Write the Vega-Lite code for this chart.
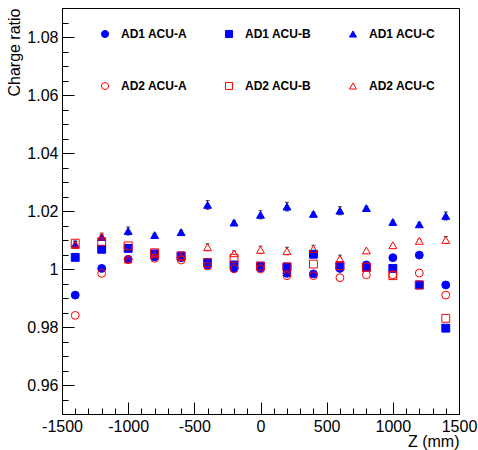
{
  "$schema": "https://vega.github.io/schema/vega-lite/v6.json",
  "width": 397,
  "height": 406,
  "autosize": {"type": "none"},
  "padding": {"left": 62, "top": 8, "right": 19, "bottom": 36},
  "background": "white",
  "config": {
    "font": "Liberation Sans",
    "view": {"stroke": "black", "strokeWidth": 1},
    "axis": {
      "grid": false,
      "domainColor": "black",
      "tickColor": "black",
      "labelColor": "black",
      "titleColor": "black",
      "labelFont": "Liberation Sans",
      "titleFont": "Liberation Sans",
      "labelFontSize": 16,
      "titleFontSize": 16,
      "titleFontWeight": "normal",
      "labelOverlap": false,
      "labelFlush": false
    }
  },
  "data": {
    "values": [
      {"z": -1400, "v": 0.991, "s": "AD1 ACU-A", "err": 0},
      {"z": -1200, "v": 1.0002, "s": "AD1 ACU-A", "err": 0},
      {"z": -1000, "v": 1.0033, "s": "AD1 ACU-A", "err": 0},
      {"z": -800, "v": 1.0042, "s": "AD1 ACU-A", "err": 0},
      {"z": -600, "v": 1.0039, "s": "AD1 ACU-A", "err": 0},
      {"z": -400, "v": 1.0014, "s": "AD1 ACU-A", "err": 0},
      {"z": -200, "v": 1.0002, "s": "AD1 ACU-A", "err": 0},
      {"z": 0, "v": 1.0004, "s": "AD1 ACU-A", "err": 0},
      {"z": 200, "v": 0.9985, "s": "AD1 ACU-A", "err": 0},
      {"z": 400, "v": 0.9983, "s": "AD1 ACU-A", "err": 0},
      {"z": 600, "v": 1.0002, "s": "AD1 ACU-A", "err": 0},
      {"z": 800, "v": 1.0014, "s": "AD1 ACU-A", "err": 0},
      {"z": 1000, "v": 1.0039, "s": "AD1 ACU-A", "err": 0},
      {"z": 1200, "v": 1.0048, "s": "AD1 ACU-A", "err": 0},
      {"z": 1400, "v": 0.9945, "s": "AD1 ACU-A", "err": 0},

      {"z": -1400, "v": 1.004, "s": "AD1 ACU-B", "err": 0},
      {"z": -1200, "v": 1.0068, "s": "AD1 ACU-B", "err": 0},
      {"z": -1000, "v": 1.0071, "s": "AD1 ACU-B", "err": 0},
      {"z": -800, "v": 1.0052, "s": "AD1 ACU-B", "err": 0},
      {"z": -600, "v": 1.0045, "s": "AD1 ACU-B", "err": 0},
      {"z": -400, "v": 1.0022, "s": "AD1 ACU-B", "err": 0},
      {"z": -200, "v": 1.0014, "s": "AD1 ACU-B", "err": 0},
      {"z": 0, "v": 1.001, "s": "AD1 ACU-B", "err": 0},
      {"z": 200, "v": 1.0007, "s": "AD1 ACU-B", "err": 0},
      {"z": 400, "v": 1.0051, "s": "AD1 ACU-B", "err": 0},
      {"z": 600, "v": 1.0011, "s": "AD1 ACU-B", "err": 0},
      {"z": 800, "v": 1.0006, "s": "AD1 ACU-B", "err": 0},
      {"z": 1000, "v": 1.0002, "s": "AD1 ACU-B", "err": 0},
      {"z": 1200, "v": 0.9945, "s": "AD1 ACU-B", "err": 0},
      {"z": 1400, "v": 0.9796, "s": "AD1 ACU-B", "err": 0},

      {"z": -1400, "v": 1.0085, "s": "AD1 ACU-C", "err": 0.0012},
      {"z": -1200, "v": 1.011, "s": "AD1 ACU-C", "err": 0.0008},
      {"z": -1000, "v": 1.0131, "s": "AD1 ACU-C", "err": 0.0014},
      {"z": -800, "v": 1.0117, "s": "AD1 ACU-C", "err": 0.0006},
      {"z": -600, "v": 1.0127, "s": "AD1 ACU-C", "err": 0.0006},
      {"z": -400, "v": 1.0221, "s": "AD1 ACU-C", "err": 0.0015},
      {"z": -200, "v": 1.016, "s": "AD1 ACU-C", "err": 0.0006},
      {"z": 0, "v": 1.0187, "s": "AD1 ACU-C", "err": 0.0014},
      {"z": 200, "v": 1.0215, "s": "AD1 ACU-C", "err": 0.0015},
      {"z": 400, "v": 1.019, "s": "AD1 ACU-C", "err": 0.0006},
      {"z": 600, "v": 1.0201, "s": "AD1 ACU-C", "err": 0.0014},
      {"z": 800, "v": 1.021, "s": "AD1 ACU-C", "err": 0.0006},
      {"z": 1000, "v": 1.0162, "s": "AD1 ACU-C", "err": 0.0006},
      {"z": 1200, "v": 1.0154, "s": "AD1 ACU-C", "err": 0.0006},
      {"z": 1400, "v": 1.0183, "s": "AD1 ACU-C", "err": 0.0014},

      {"z": -1400, "v": 0.984, "s": "AD2 ACU-A", "err": 0},
      {"z": -1200, "v": 0.9985, "s": "AD2 ACU-A", "err": 0},
      {"z": -1000, "v": 1.0033, "s": "AD2 ACU-A", "err": 0},
      {"z": -800, "v": 1.0037, "s": "AD2 ACU-A", "err": 0},
      {"z": -600, "v": 1.0031, "s": "AD2 ACU-A", "err": 0},
      {"z": -400, "v": 1.001, "s": "AD2 ACU-A", "err": 0},
      {"z": -200, "v": 1.0001, "s": "AD2 ACU-A", "err": 0},
      {"z": 0, "v": 1.0, "s": "AD2 ACU-A", "err": 0},
      {"z": 200, "v": 0.9977, "s": "AD2 ACU-A", "err": 0},
      {"z": 400, "v": 0.9977, "s": "AD2 ACU-A", "err": 0},
      {"z": 600, "v": 0.997, "s": "AD2 ACU-A", "err": 0},
      {"z": 800, "v": 0.998, "s": "AD2 ACU-A", "err": 0},
      {"z": 1000, "v": 0.998, "s": "AD2 ACU-A", "err": 0},
      {"z": 1200, "v": 0.9986, "s": "AD2 ACU-A", "err": 0},
      {"z": 1400, "v": 0.991, "s": "AD2 ACU-A", "err": 0},

      {"z": -1400, "v": 1.0089, "s": "AD2 ACU-B", "err": 0},
      {"z": -1200, "v": 1.0094, "s": "AD2 ACU-B", "err": 0},
      {"z": -1000, "v": 1.008, "s": "AD2 ACU-B", "err": 0},
      {"z": -800, "v": 1.0056, "s": "AD2 ACU-B", "err": 0},
      {"z": -600, "v": 1.0045, "s": "AD2 ACU-B", "err": 0},
      {"z": -400, "v": 1.0022, "s": "AD2 ACU-B", "err": 0},
      {"z": -200, "v": 1.0037, "s": "AD2 ACU-B", "err": 0},
      {"z": 0, "v": 1.001, "s": "AD2 ACU-B", "err": 0},
      {"z": 200, "v": 1.0007, "s": "AD2 ACU-B", "err": 0},
      {"z": 400, "v": 1.0017, "s": "AD2 ACU-B", "err": 0},
      {"z": 600, "v": 1.0011, "s": "AD2 ACU-B", "err": 0},
      {"z": 800, "v": 1.0006, "s": "AD2 ACU-B", "err": 0},
      {"z": 1000, "v": 0.9977, "s": "AD2 ACU-B", "err": 0},
      {"z": 1200, "v": 0.9945, "s": "AD2 ACU-B", "err": 0},
      {"z": 1400, "v": 0.983, "s": "AD2 ACU-B", "err": 0},

      {"z": -1400, "v": 1.0083, "s": "AD2 ACU-C", "err": 0.0012},
      {"z": -1200, "v": 1.0112, "s": "AD2 ACU-C", "err": 0.0012},
      {"z": -1000, "v": 1.0033, "s": "AD2 ACU-C", "err": 0},
      {"z": -800, "v": 1.005, "s": "AD2 ACU-C", "err": 0},
      {"z": -600, "v": 1.0043, "s": "AD2 ACU-C", "err": 0},
      {"z": -400, "v": 1.0075, "s": "AD2 ACU-C", "err": 0.0012},
      {"z": -200, "v": 1.0054, "s": "AD2 ACU-C", "err": 0.0008},
      {"z": 0, "v": 1.0066, "s": "AD2 ACU-C", "err": 0.0013},
      {"z": 200, "v": 1.0062, "s": "AD2 ACU-C", "err": 0.0013},
      {"z": 400, "v": 1.0069, "s": "AD2 ACU-C", "err": 0.0013},
      {"z": 600, "v": 1.0035, "s": "AD2 ACU-C", "err": 0.0013},
      {"z": 800, "v": 1.0064, "s": "AD2 ACU-C", "err": 0},
      {"z": 1000, "v": 1.0082, "s": "AD2 ACU-C", "err": 0},
      {"z": 1200, "v": 1.0097, "s": "AD2 ACU-C", "err": 0.0006},
      {"z": 1400, "v": 1.01, "s": "AD2 ACU-C", "err": 0.0012}
    ]
  },
  "encoding": {
    "x": {
      "field": "z",
      "type": "quantitative",
      "scale": {"domain": [-1500, 1500], "nice": false, "zero": false},
      "axis": {
        "title": "Z (mm)",
        "titleAnchor": "end",
        "titlePadding": -7,
        "values": [-1500,-1400,-1300,-1200,-1100,-1000,-900,-800,-700,-600,-500,-400,-300,-200,-100,0,100,200,300,400,500,600,700,800,900,1000,1100,1200,1300,1400,1500],
        "labelExpr": "datum.value % 500 === 0 ? '' + datum.value : ''",
        "tickSize": {"condition": {"test": "datum.value % 500 === 0", "value": -12}, "value": -6},
        "labelPadding": 16
      }
    },
    "y": {
      "field": "v",
      "type": "quantitative",
      "scale": {"domain": [0.95, 1.09], "nice": false, "zero": false},
      "axis": {
        "title": "Charge ratio",
        "titleAnchor": "end",
        "titlePadding": 4,
        "values": [0.955,0.96,0.965,0.97,0.975,0.98,0.985,0.99,0.995,1.0,1.005,1.01,1.015,1.02,1.025,1.03,1.035,1.04,1.045,1.05,1.055,1.06,1.065,1.07,1.075,1.08,1.085],
        "labelExpr": "abs(datum.value*50 - round(datum.value*50)) < 1e-6 ? format(datum.value, '.2~f') : ''",
        "tickSize": {"condition": {"test": "abs(datum.value*50 - round(datum.value*50)) < 1e-6", "value": -12}, "value": -6},
        "labelPadding": 16
      }
    }
  },
  "layer": [
    {
      "transform": [{"filter": "datum.err > 0"}],
      "mark": {"type": "errorbar", "color": "black", "thickness": 1, "ticks": {"size": 4, "color": "black"}},
      "encoding": {"yError": {"field": "err"}}
    },
    {
      "transform": [{"filter": "datum.s === 'AD2 ACU-C'"}],
      "mark": {"type": "point", "shape": "triangle-up", "filled": true, "color": "white", "size": 62, "opacity": 1},
      "encoding": {}
    },
    {
      "mark": {"type": "point", "strokeWidth": 1, "size": 62, "opacity": 1},
      "encoding": {
        "shape": {
          "field": "s", "type": "nominal",
          "scale": {"domain": ["AD1 ACU-A","AD1 ACU-B","AD1 ACU-C","AD2 ACU-A","AD2 ACU-B","AD2 ACU-C"], "range": ["circle","square","triangle-up","circle","square","triangle-up"]},
          "legend": {"title": null, "orient": "none", "legendX": 37, "legendY": 20, "columns": 3, "direction": "horizontal", "gridAlign": "all", "columnPadding": 36, "rowPadding": 40, "padding": 0, "symbolSize": 50, "symbolStrokeWidth": 1, "labelOffset": 10, "labelFont": "Liberation Sans", "labelFontSize": 12, "labelFontWeight": "bold", "labelColor": "black", "labelLimit": 200}
        },
        "fill": {
          "field": "s", "type": "nominal",
          "scale": {"domain": ["AD1 ACU-A","AD1 ACU-B","AD1 ACU-C","AD2 ACU-A","AD2 ACU-B","AD2 ACU-C"], "range": ["#0000ff","#0000ff","#0000ff","transparent","transparent","transparent"]},
          "legend": {"title": null, "orient": "none", "legendX": 37, "legendY": 20, "columns": 3, "direction": "horizontal", "gridAlign": "all", "columnPadding": 36, "rowPadding": 40, "padding": 0, "symbolSize": 50, "symbolStrokeWidth": 1, "labelOffset": 10, "labelFont": "Liberation Sans", "labelFontSize": 12, "labelFontWeight": "bold", "labelColor": "black", "labelLimit": 200}
        },
        "stroke": {
          "field": "s", "type": "nominal",
          "scale": {"domain": ["AD1 ACU-A","AD1 ACU-B","AD1 ACU-C","AD2 ACU-A","AD2 ACU-B","AD2 ACU-C"], "range": ["#0000ff","#0000ff","#0000ff","#ff0000","#ff0000","#ff0000"]},
          "legend": {"title": null, "orient": "none", "legendX": 37, "legendY": 20, "columns": 3, "direction": "horizontal", "gridAlign": "all", "columnPadding": 36, "rowPadding": 40, "padding": 0, "symbolSize": 50, "symbolStrokeWidth": 1, "labelOffset": 10, "labelFont": "Liberation Sans", "labelFontSize": 12, "labelFontWeight": "bold", "labelColor": "black", "labelLimit": 200}
        }
      }
    }
  ]
}
